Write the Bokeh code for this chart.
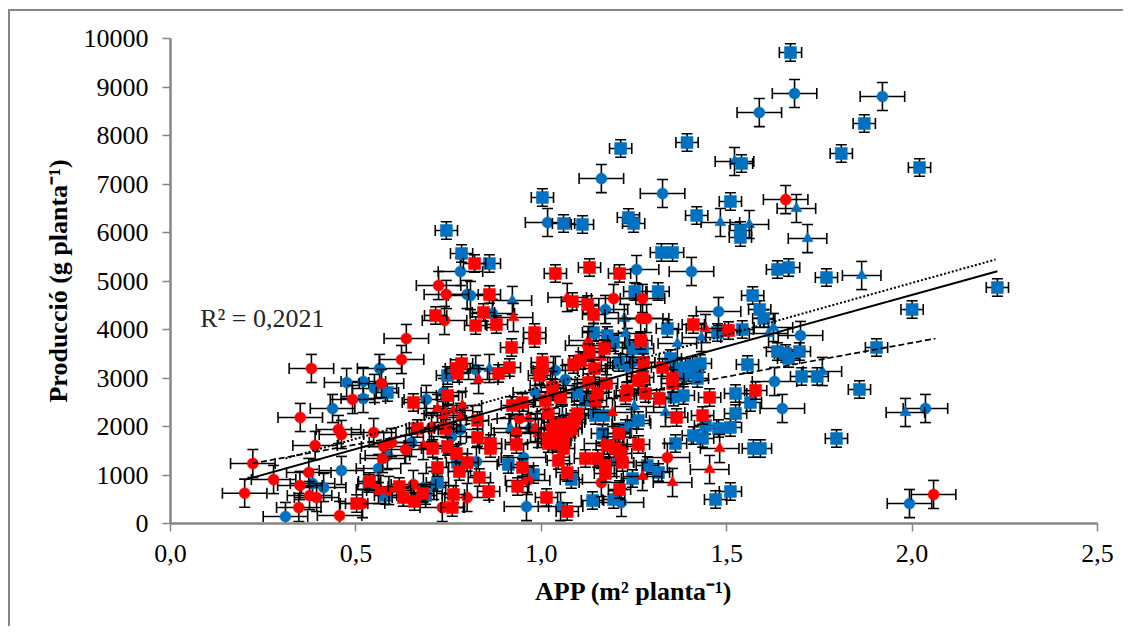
from bokeh.plotting import figure
from bokeh.embed import file_html
from bokeh.resources import INLINE
from bokeh.models import FixedTicker, Label

# ---- data ----
blue_circle_x = [1.683,1.92,1.588,1.162,1.327,1.017,1.257,1.405,0.782,1.478,0.823,0.868,0.809,1.038,1.065,1.246,1.173,0.984,0.825,0.952,0.96,1.052,1.216,0.971,
    1.699,1.629,1.65,1.993,2.036,0.564,0.475,0.52,0.55,0.52,0.437,0.69,0.736,0.8,0.65,0.758,0.782,0.585,0.561,0.461,0.383,0.413,0.31,0.682,0.71]
blue_circle_y = [8866,8804,8474,7113,6804,6206,5237,5196,5196,4371,3175,4330,4701,3155,2969,3320,4412,2701,1278,1361,350,350,433,1959,
    3876,2928,2371,412,2371,3196,2907,2928,2784,2577,2371,2557,2701,4722,1670,1794,1938,1402,1134,1093,825,742,144,742,784]
blue_tri_x = [1.521,1.688,1.483,1.561,1.718,1.864,0.922,0.86,1.224,1.227,1.232,1.367,1.432,1.23,1.251,1.335,1.243,1.057,1.613,1.197,0.917,1.626,1.758,1.982]
blue_tri_y = [7464,6495,6206,6165,5876,5113,4598,3196,4227,3918,3732,3711,3835,3196,2412,2289,2062,2165,3918,1258,1959,4041,3134,2289]
blue_square_x = [1.672,1.871,1.809,2.02,1.214,1.393,1.54,1.51,1.419,1.235,1.249,1.06,1.111,1.537,1.537,1.324,1.354,1.637,1.667,1.769,
    2.23,2.0,1.904,1.858,1.796,1.702,1.744,1.696,1.637,1.659,1.667,0.744,0.785,0.86,1.003,
    1.252,1.315,1.57,1.589,1.6,1.34,1.475,1.542,1.141,1.178,1.195,1.249,1.273,1.348,1.209,
    1.367,1.389,1.408,1.429,1.38,1.397,1.421,1.556,1.524,1.564,1.524,1.51,1.478,1.443,1.41,1.435,1.362,1.357,1.383,1.572,1.591,1.51,1.47,
    1.262,1.227,1.165,1.146,1.168,1.286,1.316,1.246,1.081,1.138,1.195,0.911,0.979,1.119,1.097,
    0.585,0.747,0.774,0.72,0.688,0.58,0.535]
blue_square_y = [9711,8247,7629,7340,7732,7856,7423,6639,6350,6309,6186,6186,6165,6041,5897,5588,5588,5237,5278,5072,
    4866,4412,3629,2763,1753,3031,3031,3546,3546,3505,3402,6041,5567,5361,6722,
    4784,4784,4701,4412,4227,4020,3938,4000,3938,3876,3732,3608,3608,3402,3320,
    3196,3216,3258,3299,3052,3113,2990,3278,2680,2495,2268,1979,1959,2021,1814,1753,1649,2605,2639,1546,1546,660,495,
    2124,1959,1856,2227,2227,1196,1052,928,907,474,495,1216,1010,2536,2701,
    2701,3052,1258,845,577,577,825]
red_tri_x = [1.07,0.925,0.831,1.127,1.162,1.141,1.443,1.192,0.965,0.984,0.992,1.168,1.222,1.273,1.354,1.454,1.481,0.72,0.742,0.763,0.787,0.782,0.736,0.682]
red_tri_y = [4660,4247,2969,3773,3423,3258,4020,2289,2165,1979,1856,1649,1588,969,845,1113,1546,2371,2289,2330,2433,2186,2227,1608]
red_circle_x = [1.659,2.058,1.195,1.273,1.268,1.284,1.125,1.03,0.941,0.933,0.963,1.162,1.34,
    0.723,0.744,0.739,0.636,0.623,0.38,0.569,0.491,0.35,0.453,0.461,0.548,0.39,0.575,0.596,0.634,0.572,0.222,0.373,0.278,0.2,0.349,0.375,0.394,0.346,0.456,0.561,0.589,0.655,0.704,0.733,0.8,0.518]
red_circle_y = [6680,598,4639,4639,4227,4227,3670,2845,2165,1876,887,845,1361,
    4907,4722,4186,3814,3381,3196,2887,2557,2186,1938,1835,1876,1608,1588,1670,1526,1340,1237,1052,907,625,784,577,536,330,165,701,680,804,1979,330,536,412]
red_square_x = [1.038,1.13,1.211,0.82,0.86,0.844,0.823,0.879,0.982,0.982,0.92,0.914,0.885,1.003,1.003,0.995,1.084,1.125,1.141,1.41,1.505,1.268,1.17,1.13,1.106,1.087,1.143,1.276,1.327,1.354,1.354,1.273,1.262,1.176,1.127,1.03,1.232,1.227,1.281,1.319,1.454,1.578,1.435,1.365,1.152,1.146,1.052,1.011,0.949,0.922,0.828,1.019,
    1.097,1.087,1.079,1.038,1.038,1.019,1.046,1.06,1.046,1.07,0.828,0.863,0.863,0.933,0.949,0.833,0.858,0.936,1.014,1.07,1.209,1.262,1.178,1.2,1.214,1.219,1.119,1.152,1.173,1.173,1.211,
    0.715,0.771,0.785,0.774,0.655,0.747,0.666,0.707,0.742,0.747,0.771,0.8,0.72,0.779,0.537,0.617,0.628,0.658,0.68,0.763,0.76,0.502,
    1.02,1.03,1.05,1.06,1.07,1.08,1.09,1.06,1.03,1.05,1.08]
red_square_y = [5155,5278,5155,5361,4722,4351,4082,4103,3938,3814,3629,3216,3093,3320,3196,3052,4577,4515,4309,4103,3979,3773,3608,3526,3361,3278,3196,3320,3216,2990,2887,3010,2948,2887,2907,2804,2742,2639,2680,2577,2598,2742,2227,2186,2680,2536,2598,2536,2495,2433,2124,2268,
    2268,2082,1979,2021,1814,1649,1649,1546,1299,1052,1773,1649,1546,1629,1155,948,660,763,536,247,1856,1629,1608,1546,1443,1258,1340,1340,1196,1031,701,
    4289,3196,3299,3093,2495,2639,1959,1546,1959,1588,1443,1258,1155,1072,866,763,536,454,619,598,330,412,
    1750,1700,1950,1800,1900,1950,2150,2050,1950,1700,2050]

# half widths of the error bars, per marker kind
square_err_x, square_err_y = 0.03, 180
circle_err_x, circle_err_y = 0.06, 290
tri_err_x, tri_err_y = 0.052, 290

trend_solid_x, trend_solid_y = [0.20, 2.23], [900, 5200]
trend_dotted_x, trend_dotted_y = [0.31, 2.225], [1340, 5443]
trend_dashed_x, trend_dashed_y = [0.22, 2.063], [1237, 3814]

x_ticks = [0, 0.5, 1.0, 1.5, 2.0, 2.5]
x_tick_labels = ["0,0", "0,5", "1,0", "1,5", "2,0", "2,5"]
y_ticks = [0, 1000, 2000, 3000, 4000, 5000, 6000, 7000, 8000, 9000, 10000]
x_title = "APP (m² planta⁻¹)"
y_title = "Producció (g planta⁻¹)"
r2_text = "R² = 0,2021"

BLUE, RED, GRAY, FONT = "#0070C0", "#FF0000", "#868686", "Liberation Serif"

p = figure(width=1115, height=617, x_range=(0, 2.5), y_range=(0, 10000),
           output_backend="svg", toolbar_location=None,
           min_border_left=160, min_border_right=28, min_border_top=27, min_border_bottom=105)
p.grid.visible = False
p.outline_line_color = None
p.background_fill_color = "white"
# chart-area border: only its left and top edges fall inside the picture
p.styles = {"margin-left": "8px", "margin-top": "9px",
            "border-left": f"2px solid {GRAY}", "border-top": f"2px solid {GRAY}"}

for ax in (p.xaxis[0], p.yaxis[0]):
    ax.axis_line_color = GRAY
    ax.axis_line_width = 2.5
    ax.major_tick_line_color = GRAY
    ax.major_tick_line_width = 1.5
    ax.major_tick_in = 0
    ax.major_tick_out = 8
    ax.minor_tick_line_color = None
    ax.major_label_text_font = FONT
    ax.major_label_text_font_size = "26px"
    ax.major_label_text_color = "black"
    ax.axis_label_text_font = FONT
    ax.axis_label_text_font_style = "bold"
    ax.axis_label_text_color = "black"

p.xaxis[0].ticker = FixedTicker(ticks=x_ticks)
p.xaxis[0].major_label_overrides = dict(zip(x_ticks, x_tick_labels))
p.xaxis[0].major_label_standoff = 13
p.xaxis[0].axis_label = x_title
p.xaxis[0].axis_label_text_font_size = "26px"
p.xaxis[0].axis_label_standoff = 12
p.yaxis[0].ticker = FixedTicker(ticks=y_ticks)
p.yaxis[0].major_label_standoff = 14
p.yaxis[0].axis_label = y_title
p.yaxis[0].axis_label_text_font_size = "26px"
p.yaxis[0].axis_label_standoff = 8

def series(xs, ys, ex, ey, marker, size, color):
    xl = [x - ex for x in xs]; xr = [x + ex for x in xs]
    yl = [y - ey for y in ys]; yh = [y + ey for y in ys]
    p.segment(xl, ys, xr, ys, line_color="black", line_width=1.6)
    p.segment(xs, yl, xs, yh, line_color="black", line_width=1.6)
    p.scatter(xs + xs, yl + yh, marker="dash", size=11, line_color="black", line_width=1.6)
    p.scatter(xl + xr, ys + ys, marker="dash", size=11, angle=1.5708, line_color="black", line_width=1.6)
    p.scatter(xs, ys, marker=marker, size=size, fill_color=color, line_color=color, line_width=0.5)

series(blue_circle_x, blue_circle_y, circle_err_x, circle_err_y, "circle", 11, BLUE)
series(blue_tri_x, blue_tri_y, tri_err_x, tri_err_y, "triangle", 11, BLUE)
series(blue_square_x, blue_square_y, square_err_x, square_err_y, "square", 12, BLUE)
series(red_tri_x, red_tri_y, tri_err_x, tri_err_y, "triangle", 11, RED)
series(red_circle_x, red_circle_y, circle_err_x, circle_err_y, "circle", 11, RED)
series(red_square_x, red_square_y, square_err_x, square_err_y, "square", 12, RED)

p.line(trend_solid_x, trend_solid_y, line_color="black", line_width=2)
p.line(trend_dotted_x, trend_dotted_y, line_color="black", line_width=2, line_dash="2 2")
p.line(trend_dashed_x, trend_dashed_y, line_color="black", line_width=1.7, line_dash="6 3")

p.add_layout(Label(x=0.08, y=4220, text=r2_text, text_font=FONT, text_font_size="26px",
                   text_color="#262626", text_baseline="middle"))

open("out.html", "w").write(file_html(p, INLINE))
